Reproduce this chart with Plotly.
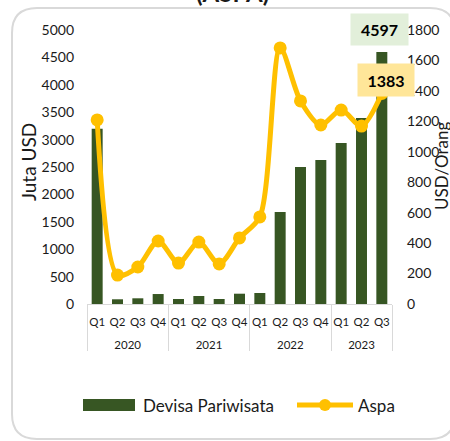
import plotly.graph_objects as go

# ---- data ----
years = ["2020", "2020", "2020", "2020",
         "2021", "2021", "2021", "2021",
         "2022", "2022", "2022", "2022",
         "2023", "2023", "2023"]
quarters = ["Q1", "Q2", "Q3", "Q4",
            "Q1", "Q2", "Q3", "Q4",
            "Q1", "Q2", "Q3", "Q4",
            "Q1", "Q2", "Q3"]
devisa = [3200, 86, 104, 182, 91, 146, 91, 188, 201, 1680, 2500, 2630, 2940, 3395, 4597]
aspa = [1209, 190, 243, 414, 269, 407, 263, 434, 572, 1682, 1334, 1176, 1274, 1169, 1383]
series_names = ["Devisa Pariwisata", "Aspa"]
left_title = "Juta USD"
right_title = "USD/Orang"
chart_title = "(ASPA)"

GREEN = "#375623"
YELLOW = "#FFC000"
FONT = "Lato"
TXT = "#1a1a1a"

W, H = 450, 441
ML, MR, MT, MB = 87, 58, 30, 137
PW, PH = W - ML - MR, H - MT - MB


def px(x):
    return (x - ML) / PW


def py(y):
    return (H - MB - y) / PH


n = len(devisa)
# quarter labels get an empty second line so the year row sits lower
q_labels = [q + "<br> " for q in quarters]

fig = go.Figure()
fig.add_trace(go.Bar(
    x=[years, q_labels], y=devisa, name=series_names[0],
    marker=dict(color=GREEN, line=dict(width=0)),
    showlegend=False,
))
fig.add_trace(go.Scatter(
    x=[years, q_labels], y=aspa, name=series_names[1], yaxis="y2",
    mode="lines+markers",
    line=dict(color=YELLOW, width=5, shape="spline", smoothing=0.8),
    marker=dict(color=YELLOW, size=13),
    showlegend=False,
))

# rounded chart border
r = 25
x0, x1, y0, y1 = 12, 455, 8, 439
pts = [
    ("M", [(x0 + r, y0)]),
    ("L", [(x1 - r, y0)]),
    ("Q", [(x1, y0), (x1, y0 + r)]),
    ("L", [(x1, y1 - r)]),
    ("Q", [(x1, y1), (x1 - r, y1)]),
    ("L", [(x0 + r, y1)]),
    ("Q", [(x0, y1), (x0, y1 - r)]),
    ("L", [(x0, y0 + r)]),
    ("Q", [(x0, y0), (x0 + r, y0)]),
]
path = ""
for cmd, pp in pts:
    path += cmd + " ".join(f"{px(a):.5f},{py(b):.5f}" for a, b in pp) + " "
path += "Z"

shapes = [
    dict(type="path", path=path, xref="paper", yref="paper",
         line=dict(color="#d9d9d9", width=2), fillcolor="rgba(0,0,0,0)", layer="below"),
    # legend symbols
    dict(type="rect", xref="paper", yref="paper",
         x0=px(83), x1=px(135), y0=py(411), y1=py(399),
         fillcolor=GREEN, line=dict(width=0)),
    dict(type="line", xref="paper", yref="paper",
         x0=px(297), x1=px(353), y0=py(405), y1=py(405),
         line=dict(color=YELLOW, width=5)),
    dict(type="circle", xref="paper", yref="paper",
         x0=px(319), x1=px(331), y0=py(411), y1=py(399),
         fillcolor=YELLOW, line=dict(width=0)),
]

annotations = [
    dict(text=f"<b>{chart_title}</b>", xref="paper", yref="paper",
         x=px(232), y=py(9), xanchor="center", yanchor="bottom",
         showarrow=False, font=dict(family=FONT, size=24, color=TXT)),
    dict(text=left_title, xref="paper", yref="paper", x=px(28), y=py(162),
         xanchor="center", yanchor="middle", textangle=-90, showarrow=False,
         font=dict(family=FONT, size=19, color=TXT)),
    dict(text=right_title, xref="paper", yref="paper", x=px(441), y=py(166),
         xanchor="center", yanchor="middle", textangle=-90, showarrow=False,
         font=dict(family=FONT, size=17, color=TXT)),
    dict(text=f"<b>{devisa[-1]}</b>", xref="x", yref="y", x=n - 1, xshift=-2,
         y=4990, yshift=1, xanchor="center", yanchor="middle", showarrow=False,
         width=55, height=29, bgcolor="#E2EFDA",
         font=dict(family=FONT, size=16, color="#000")),
    dict(text=f"<b>{aspa[-1]}</b>", xref="x", yref="y2", x=n - 1, xshift=4,
         y=1471, xanchor="center", yanchor="middle", showarrow=False,
         width=54, height=30, bgcolor="#FFE699",
         font=dict(family=FONT, size=16, color="#000")),
    dict(text=series_names[0], xref="paper", yref="paper", x=px(141), y=py(405),
         xanchor="left", yanchor="middle", showarrow=False,
         font=dict(family=FONT, size=17, color=TXT)),
    dict(text=series_names[1], xref="paper", yref="paper", x=px(356), y=py(405),
         xanchor="left", yanchor="middle", showarrow=False,
         font=dict(family=FONT, size=17, color=TXT)),
]

fig.update_layout(
    width=W, height=H,
    margin=dict(l=ML, r=MR, t=MT, b=MB, autoexpand=False),
    paper_bgcolor="white", plot_bgcolor="white",
    bargap=0.46,
    font=dict(family=FONT, color=TXT),
    xaxis=dict(
        type="multicategory",
        range=[-0.5, n - 0.5], autorange=False,
        showline=True, linecolor="#d9d9d9", linewidth=1,
        showgrid=False, zeroline=False,
        showdividers=True, dividercolor="#d9d9d9", dividerwidth=1,
        tickfont=dict(family=FONT, size=11.5, color=TXT),
        tickangle=0, ticklabelstandoff=7,
        ticks="",
    ),
    yaxis=dict(
        range=[0, 5000], dtick=500, showgrid=False, zeroline=False,
        showline=False, ticks="", ticklabelstandoff=12,
        tickfont=dict(family=FONT, size=14, color=TXT),
    ),
    yaxis2=dict(
        range=[0, 1800], dtick=200, overlaying="y", side="right",
        showgrid=False, zeroline=False, showline=False, ticks="",
        ticklabelstandoff=14,
        tickfont=dict(family=FONT, size=14, color=TXT),
    ),
    shapes=shapes,
    annotations=annotations,
)

fig.write_html(
    "out.html",
    config={"displayModeBar": False},
    post_script="document.body.style.margin='0px';document.body.style.overflow='hidden';",
)
